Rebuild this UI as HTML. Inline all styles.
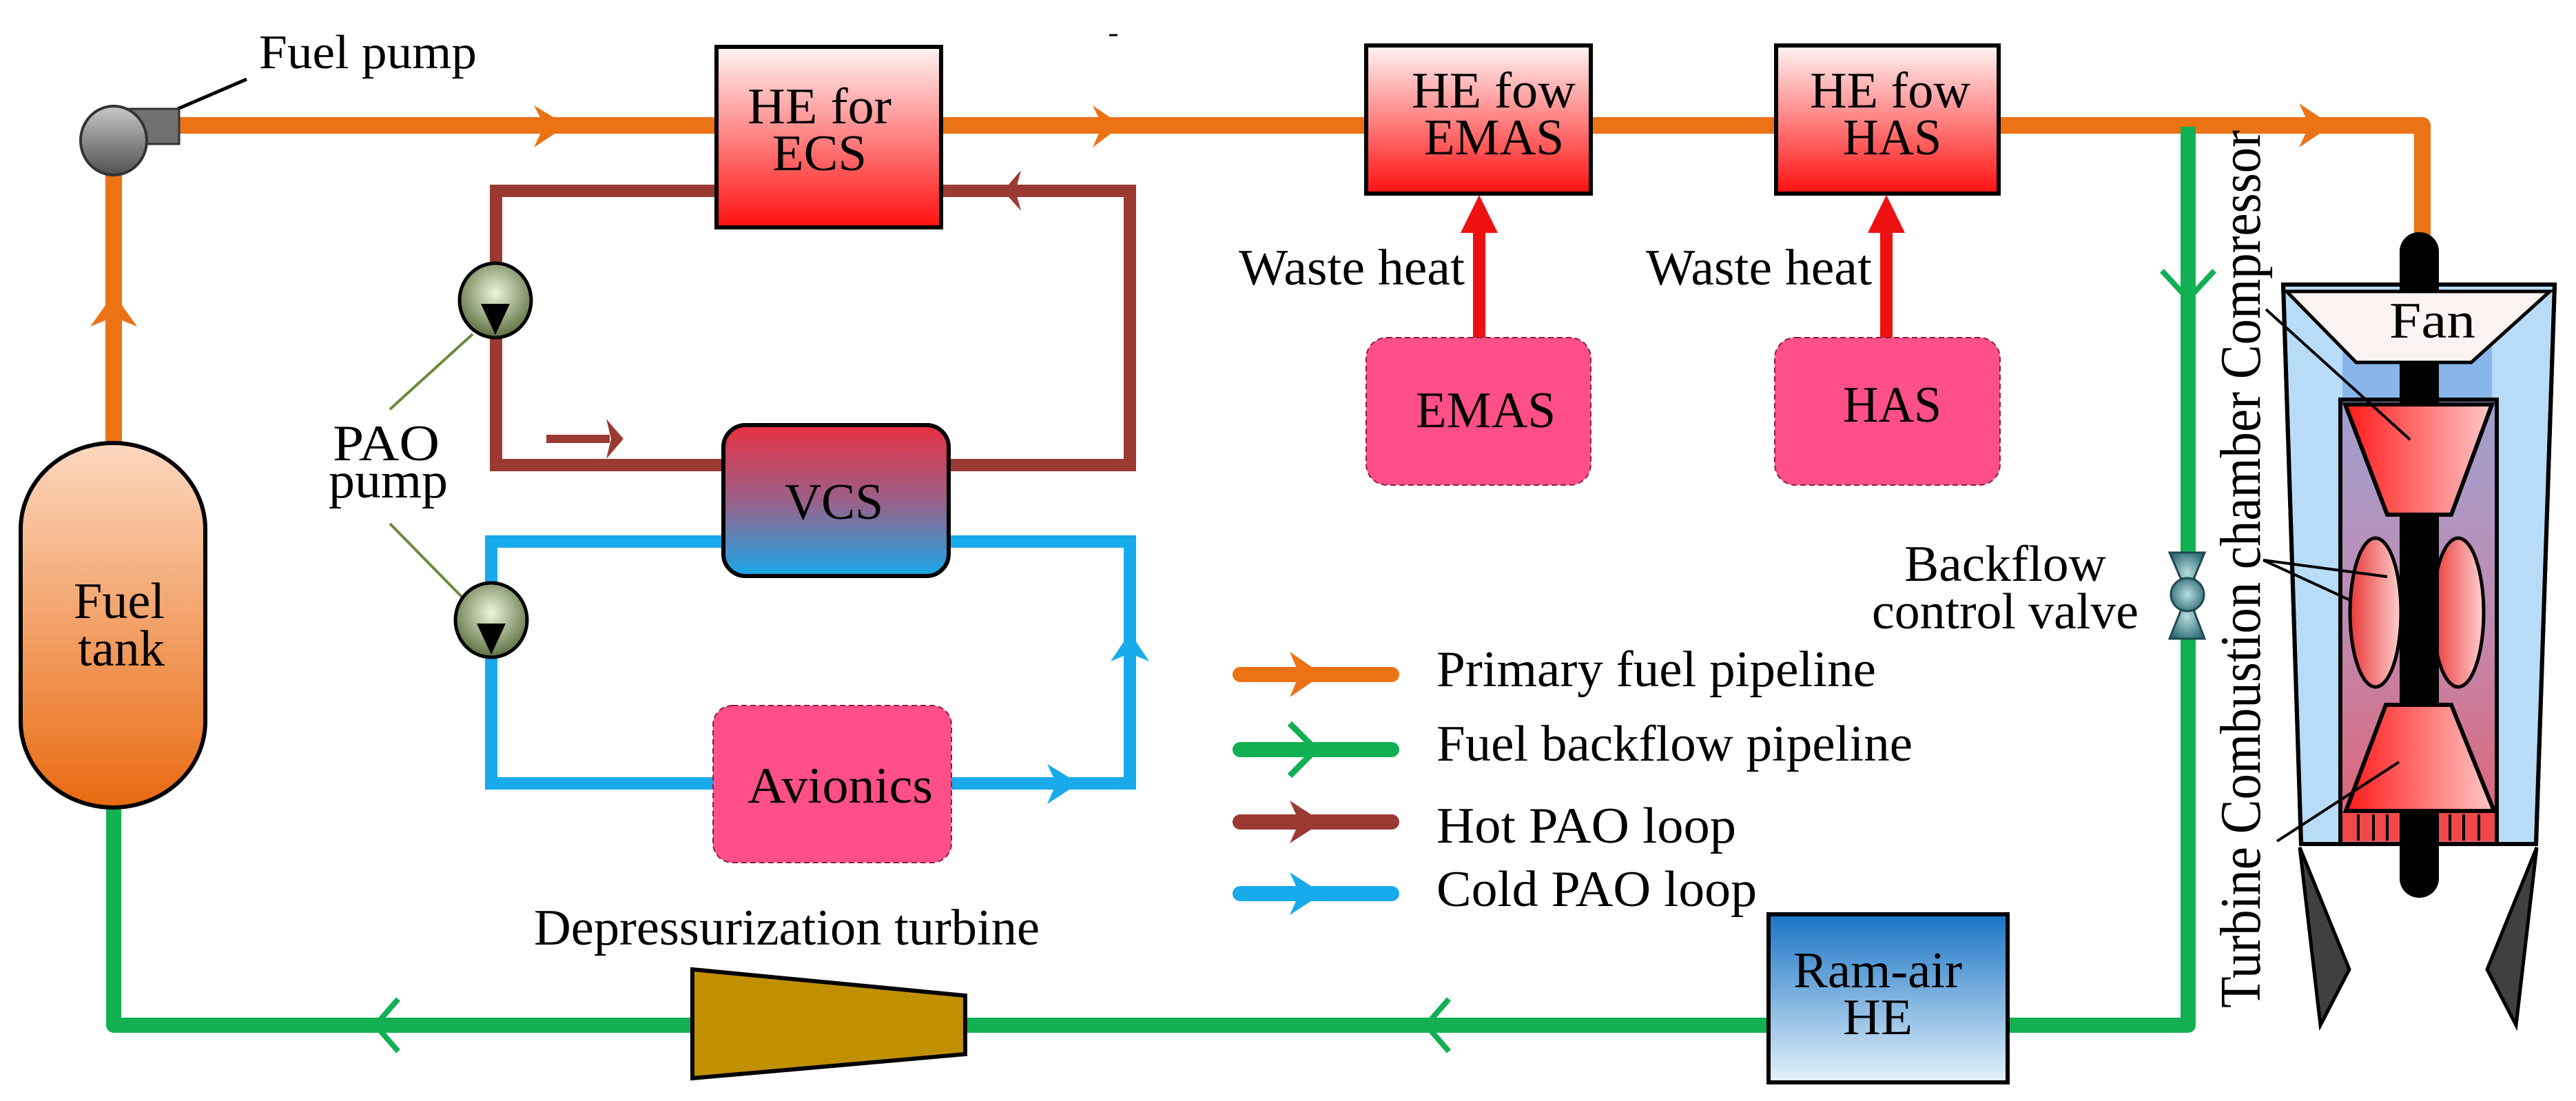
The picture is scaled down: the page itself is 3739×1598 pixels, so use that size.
<!DOCTYPE html>
<html><head><meta charset="utf-8"><style>
html,body{margin:0;padding:0;background:#fff;}
svg{display:block;}
text{font-family:"Liberation Serif",serif;fill:#000;}
</style></head><body>
<svg width="3739" height="1598" viewBox="0 0 3739 1598" xmlns="http://www.w3.org/2000/svg">
<defs>
<linearGradient id="gRed" x1="0" y1="0" x2="0" y2="1"><stop offset="0" stop-color="#fff4f4"/><stop offset="1" stop-color="#ff1010"/></linearGradient>
<linearGradient id="gVcs" x1="0" y1="0" x2="0" y2="1"><stop offset="0" stop-color="#e83040"/><stop offset="0.5" stop-color="#9a6088"/><stop offset="1" stop-color="#18a8e8"/></linearGradient>
<linearGradient id="gTank" x1="0" y1="0" x2="0" y2="1"><stop offset="0" stop-color="#fcd8c0"/><stop offset="1" stop-color="#e86a10"/></linearGradient>
<linearGradient id="gRam" x1="0" y1="0" x2="0" y2="1"><stop offset="0" stop-color="#1a74c4"/><stop offset="1" stop-color="#e4f2fb"/></linearGradient>
<linearGradient id="gPump" x1="0" y1="0" x2="0" y2="1"><stop offset="0" stop-color="#c8c8c8"/><stop offset="1" stop-color="#505050"/></linearGradient>
<radialGradient id="gPao" cx="0.5" cy="0.4" r="0.6"><stop offset="0" stop-color="#eef4dc"/><stop offset="1" stop-color="#5c7040"/></radialGradient>
<radialGradient id="gValve" cx="0.5" cy="0.5" r="0.6"><stop offset="0" stop-color="#b8dde0"/><stop offset="1" stop-color="#2a6870"/></radialGradient>
<linearGradient id="gComp" x1="0" y1="0" x2="1" y2="0"><stop offset="0" stop-color="#ff1a1a"/><stop offset="1" stop-color="#ffc8c8"/></linearGradient>
<linearGradient id="gCore" x1="0" y1="0" x2="0" y2="1"><stop offset="0" stop-color="#a0a0d0"/><stop offset="0.5" stop-color="#c08ab0"/><stop offset="1" stop-color="#e06070"/></linearGradient>
<linearGradient id="gEll" x1="0" y1="0" x2="1" y2="0"><stop offset="0" stop-color="#e83838"/><stop offset="1" stop-color="#ffd0d0"/></linearGradient>
</defs>

<line x1="1610" y1="51" x2="1622" y2="51" stroke="#000" stroke-width="3"/>

<!-- ORANGE primary line -->
<g stroke="#ec7216" stroke-width="24" fill="none" stroke-linejoin="round">
<polyline points="165,643 165,230"/>
<polyline points="250,182 3516,182 3516,352"/>
</g>
<g fill="#ec7216">
<polygon points="823,182 775,153 790,182 775,214"/>
<polygon points="1628,182 1586,153 1600,182 1586,214"/>
<polygon points="3385,182 3337,150 3352,182 3337,214"/>
<polygon points="165,426 131,474 165,460 199,474"/>
</g>

<!-- fuel pump -->
<line x1="258" y1="158" x2="358" y2="115" stroke="#000" stroke-width="5"/>
<rect x="167" y="158" width="93" height="51" fill="#707070" stroke="#333" stroke-width="3"/>
<ellipse cx="165" cy="204" rx="48" ry="50" fill="url(#gPump)" stroke="#333" stroke-width="4"/>
<text x="376" y="99" font-size="70" textLength="316" lengthAdjust="spacingAndGlyphs">Fuel pump</text>

<!-- HOT PAO loop -->
<rect x="720" y="277" width="920" height="398" stroke="#9b3a33" stroke-width="18" fill="none"/>
<polygon points="1456,277 1482,247 1474,277 1482,306" fill="#9b3a33"/>
<line x1="793" y1="637" x2="885" y2="637" stroke="#9b3a33" stroke-width="12"/>
<polygon points="905,637 880,608 887,637 880,666" fill="#9b3a33"/>

<!-- COLD PAO loop -->
<rect x="713" y="786" width="927" height="351" stroke="#18aaea" stroke-width="18" fill="none"/>
<polygon points="1640,918 1612,960 1640,948 1668,960" fill="#18aaea"/>
<polygon points="1566,1137 1520,1109 1533,1137 1520,1167" fill="#18aaea"/>

<!-- HE for ECS -->
<rect x="1040" y="68" width="326" height="262" fill="url(#gRed)" stroke="#000" stroke-width="6"/>
<text x="1085" y="179" font-size="74" textLength="209" lengthAdjust="spacingAndGlyphs">HE for</text>
<text x="1121" y="247" font-size="74" textLength="137" lengthAdjust="spacingAndGlyphs">ECS</text>

<!-- VCS -->
<rect x="1050" y="617" width="327" height="219" rx="32" fill="url(#gVcs)" stroke="#000" stroke-width="6"/>
<text x="1139" y="753" font-size="74" textLength="143" lengthAdjust="spacingAndGlyphs">VCS</text>

<!-- Avionics -->
<rect x="1035" y="1024" width="346" height="228" rx="28" fill="#ff4f88" stroke="#8a2040" stroke-width="2" stroke-dasharray="8,5"/>
<text x="1085" y="1165" font-size="74" textLength="269" lengthAdjust="spacingAndGlyphs">Avionics</text>

<!-- PAO pumps -->
<g stroke="#6a8a38" stroke-width="4">
<line x1="686" y1="485" x2="566" y2="594"/>
<line x1="566" y1="760" x2="670" y2="866"/>
</g>
<ellipse cx="719" cy="436" rx="52" ry="54" fill="url(#gPao)" stroke="#000" stroke-width="5"/>
<polygon points="698,441 740,441 719,486" fill="#000"/>
<ellipse cx="713" cy="900" rx="52" ry="54" fill="url(#gPao)" stroke="#000" stroke-width="5"/>
<polygon points="692,905 734,905 713,950" fill="#000"/>
<text x="483" y="668" font-size="74" textLength="155" lengthAdjust="spacingAndGlyphs">PAO</text>
<text x="477" y="722" font-size="74" textLength="173" lengthAdjust="spacingAndGlyphs">pump</text>

<!-- GREEN backflow -->
<polyline points="165,1172 165,1488 3176,1488 3176,184" stroke="#12b052" stroke-width="22" fill="none" stroke-linejoin="round"/>
<g stroke="#12b052" stroke-width="8" fill="none">
<polyline points="578,1450 545,1488 578,1526"/>
<polyline points="2103,1450 2070,1488 2103,1526"/>
<polyline points="3138,393 3176,434 3214,393"/>
</g>

<!-- Fuel tank -->
<rect x="30" y="643" width="268" height="529" rx="134" ry="125" fill="url(#gTank)" stroke="#000" stroke-width="6"/>
<text x="107" y="897" font-size="74" textLength="132" lengthAdjust="spacingAndGlyphs">Fuel</text>
<text x="113" y="966" font-size="74" textLength="126" lengthAdjust="spacingAndGlyphs">tank</text>

<!-- Depressurization turbine -->
<polygon points="1005,1407 1401,1445 1401,1530 1005,1565" fill="#c09000" stroke="#000" stroke-width="6"/>
<text x="775" y="1371" font-size="74" textLength="734" lengthAdjust="spacingAndGlyphs">Depressurization turbine</text>

<!-- Ram-air HE -->
<rect x="2567" y="1327" width="347" height="244" fill="url(#gRam)" stroke="#000" stroke-width="6"/>
<text x="2603" y="1433" font-size="74" textLength="245" lengthAdjust="spacingAndGlyphs">Ram-air</text>
<text x="2675" y="1501" font-size="74" textLength="101" lengthAdjust="spacingAndGlyphs">HE</text>

<!-- HE fow EMAS / HAS -->
<rect x="1983" y="66" width="326" height="215" fill="url(#gRed)" stroke="#000" stroke-width="6"/>
<text x="2049" y="156" font-size="74" textLength="238" lengthAdjust="spacingAndGlyphs">HE fow</text>
<text x="2067" y="224" font-size="74" textLength="203" lengthAdjust="spacingAndGlyphs">EMAS</text>
<rect x="2578" y="66" width="323" height="215" fill="url(#gRed)" stroke="#000" stroke-width="6"/>
<text x="2627" y="156" font-size="74" textLength="233" lengthAdjust="spacingAndGlyphs">HE fow</text>
<text x="2675" y="224" font-size="74" textLength="143" lengthAdjust="spacingAndGlyphs">HAS</text>

<!-- Waste heat arrows -->
<g stroke="#ee1111" stroke-width="18">
<line x1="2147" y1="490" x2="2147" y2="330"/>
<line x1="2738" y1="490" x2="2738" y2="330"/>
</g>
<polygon points="2147,283 2120,338 2174,338" fill="#ee1111"/>
<polygon points="2738,283 2711,338 2765,338" fill="#ee1111"/>
<text x="1798" y="413" font-size="74" textLength="328" lengthAdjust="spacingAndGlyphs">Waste heat</text>
<text x="2389" y="413" font-size="74" textLength="328" lengthAdjust="spacingAndGlyphs">Waste heat</text>

<rect x="1983" y="490" width="326" height="214" rx="30" fill="#ff4f88" stroke="#8a2040" stroke-width="2" stroke-dasharray="8,5"/>
<text x="2055" y="620" font-size="74" textLength="203" lengthAdjust="spacingAndGlyphs">EMAS</text>
<rect x="2576" y="490" width="327" height="214" rx="30" fill="#ff4f88" stroke="#8a2040" stroke-width="2" stroke-dasharray="8,5"/>
<text x="2675" y="612" font-size="74" textLength="143" lengthAdjust="spacingAndGlyphs">HAS</text>

<!-- Legend -->
<g stroke-width="22" stroke-linecap="round">
<line x1="1800" y1="979" x2="2020" y2="979" stroke="#ec7216"/>
<line x1="1800" y1="1088" x2="2020" y2="1088" stroke="#12b052"/>
<line x1="1800" y1="1193" x2="2020" y2="1193" stroke="#9b3a33"/>
<line x1="1800" y1="1297" x2="2020" y2="1297" stroke="#18aaea"/>
</g>
<polygon points="1920,979 1872,946 1886,979 1872,1012" fill="#ec7216"/>
<polyline points="1872,1050 1910,1088 1872,1126" fill="none" stroke="#12b052" stroke-width="9"/>
<polygon points="1920,1193 1872,1162 1886,1193 1872,1224" fill="#9b3a33"/>
<polygon points="1920,1297 1872,1266 1886,1297 1872,1328" fill="#18aaea"/>
<text x="2085" y="996" font-size="74" textLength="638" lengthAdjust="spacingAndGlyphs">Primary fuel pipeline</text>
<text x="2085" y="1104" font-size="74" textLength="691" lengthAdjust="spacingAndGlyphs">Fuel backflow pipeline</text>
<text x="2085" y="1223" font-size="74" textLength="435" lengthAdjust="spacingAndGlyphs">Hot PAO loop</text>
<text x="2085" y="1315" font-size="74" textLength="465" lengthAdjust="spacingAndGlyphs">Cold PAO loop</text>

<!-- Backflow valve -->
<polygon points="3149,802 3200,802 3175,862" fill="url(#gValve)" stroke="#1e4a50" stroke-width="3"/>
<polygon points="3149,927 3200,927 3175,862" fill="url(#gValve)" stroke="#1e4a50" stroke-width="3"/>
<circle cx="3175" cy="863" r="24" fill="url(#gValve)" stroke="#1e4a50" stroke-width="3"/>
<text x="2764" y="843" font-size="74" textLength="293" lengthAdjust="spacingAndGlyphs">Backflow</text>
<text x="2717" y="912" font-size="74" textLength="387" lengthAdjust="spacingAndGlyphs">control valve</text>

<!-- ENGINE -->
<polygon points="3314,413 3708,413 3681,1225 3340,1225" fill="#b8dcf8" stroke="#000" stroke-width="6"/>
<rect x="3400" y="500" width="217" height="82" fill="#88b6ea"/>
<rect x="3397" y="580" width="227" height="645" fill="url(#gCore)" stroke="#000" stroke-width="6"/>
<line x1="3285" y1="813" x2="3565" y2="942" stroke="#000" stroke-width="4"/>
<ellipse cx="3448" cy="889" rx="37" ry="108" fill="url(#gEll)" stroke="#000" stroke-width="5"/>
<ellipse cx="3568" cy="889" rx="37" ry="108" fill="url(#gEll)" stroke="#000" stroke-width="5"/>
<rect x="3483" y="337" width="57" height="966" rx="28" fill="#000"/>
<polygon points="3319,423 3701,423 3587,526 3420,526" fill="#fbf3f1" stroke="#000" stroke-width="5"/>
<text x="3468" y="490" font-size="74" textLength="125" lengthAdjust="spacingAndGlyphs">Fan</text>
<polygon points="3404,587 3617,587 3558,747 3465,747" fill="url(#gComp)" stroke="#000" stroke-width="6"/>
<polygon points="3463,1023 3558,1023 3620,1177 3405,1177" fill="url(#gComp)" stroke="#000" stroke-width="6"/>
<rect x="3400" y="1180" width="221" height="40" fill="#f04848"/>
<rect x="3483" y="1180" width="57" height="40" fill="#000"/>
<g stroke="#000" stroke-width="4">
<line x1="3423" y1="1182" x2="3423" y2="1220"/><line x1="3445" y1="1182" x2="3445" y2="1220"/><line x1="3465" y1="1182" x2="3465" y2="1220"/>
<line x1="3556" y1="1182" x2="3556" y2="1220"/><line x1="3576" y1="1182" x2="3576" y2="1220"/><line x1="3598" y1="1182" x2="3598" y2="1220"/>
</g>
<rect x="3397" y="580" width="227" height="645" fill="none" stroke="#000" stroke-width="6"/>
<polygon points="3314,413 3708,413 3681,1225 3340,1225" fill="none" stroke="#000" stroke-width="6"/>
<polygon points="3338,1230 3410,1407 3368,1488" fill="#404040" stroke="#000" stroke-width="5"/>
<polygon points="3682,1230 3610,1407 3652,1488" fill="#404040" stroke="#000" stroke-width="5"/>
<g stroke="#000" stroke-width="4">
<line x1="3289" y1="449" x2="3498" y2="638"/>
<line x1="3285" y1="813" x2="3465" y2="837"/>
<line x1="3305" y1="1221" x2="3482" y2="1106"/>
</g>
<text transform="translate(3280,1463) rotate(-90)" font-size="84" textLength="1274" lengthAdjust="spacingAndGlyphs">Turbine  Combustion chamber  Compressor</text>
</svg>
</body></html>
